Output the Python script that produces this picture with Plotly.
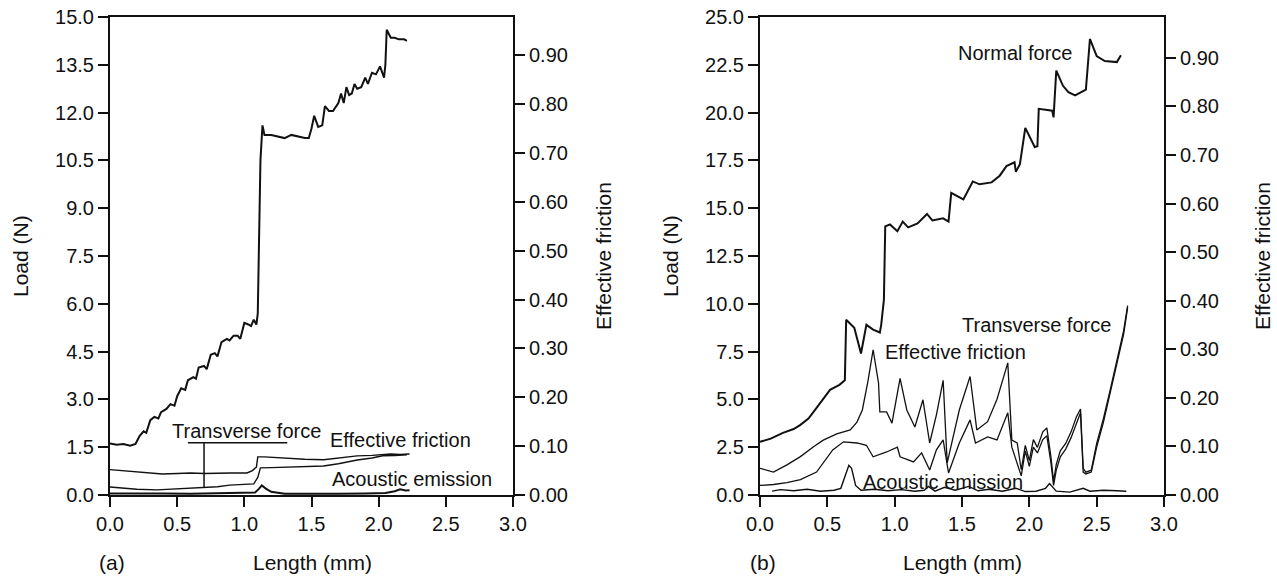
import plotly.graph_objects as go

# ---------------- Panel (a) ----------------
a_normal_x = [0.00, 0.05, 0.10, 0.15, 0.19, 0.22, 0.25, 0.27, 0.30, 0.33, 0.36, 0.38, 0.42, 0.45, 0.48,
              0.50, 0.53, 0.56, 0.58, 0.62, 0.64, 0.66, 0.70, 0.72, 0.75, 0.78, 0.80, 0.83, 0.87, 0.89,
              0.92, 0.95, 0.97, 1.00, 1.03, 1.05, 1.07, 1.09, 1.10, 1.11, 1.12, 1.135, 1.15, 1.20, 1.25,
              1.30, 1.35, 1.40, 1.45, 1.48, 1.50, 1.52, 1.55, 1.58, 1.60, 1.63, 1.66, 1.70, 1.72, 1.74,
              1.76, 1.78, 1.80, 1.82, 1.84, 1.87, 1.90, 1.92, 1.95, 1.98, 2.01, 2.04, 2.05, 2.06, 2.09,
              2.12, 2.15, 2.19, 2.21]
a_normal_y = [1.62, 1.58, 1.60, 1.55, 1.60, 1.85, 2.00, 1.95, 2.35, 2.45, 2.40, 2.60, 2.70, 2.85, 2.80,
              3.10, 3.35, 3.30, 3.60, 3.70, 3.65, 4.00, 4.05, 3.95, 4.40, 4.45, 4.35, 4.80, 4.90, 4.85,
              5.00, 5.00, 4.90, 5.40, 5.35, 5.30, 5.50, 5.35, 5.70, 8.50, 10.50, 11.60, 11.30, 11.30, 11.25,
              11.20, 11.30, 11.25, 11.20, 11.20, 11.50, 11.90, 11.55, 11.60, 12.20, 12.05, 12.05, 12.30, 12.60, 12.30,
              12.80, 12.55, 12.60, 12.90, 12.75, 12.80, 13.10, 12.90, 13.25, 13.20, 13.45, 13.10, 13.50, 14.60, 14.35,
              14.35, 14.30, 14.30, 14.25]

a_fric_x = [0.00, 0.10, 0.20, 0.30, 0.39, 0.50, 0.60, 0.70, 0.80, 0.90, 1.02, 1.06, 1.09, 1.10, 1.15,
            1.25, 1.34, 1.45, 1.59, 1.70, 1.84, 1.95, 2.09, 2.16, 2.23]
a_fric_y = [0.052, 0.050, 0.047, 0.045, 0.043, 0.044, 0.045, 0.044, 0.045, 0.045, 0.045, 0.050, 0.057, 0.078, 0.078,
            0.076, 0.074, 0.073, 0.072, 0.075, 0.080, 0.081, 0.084, 0.083, 0.084]

a_trans_x = [0.00, 0.10, 0.20, 0.35, 0.50, 0.69, 0.80, 0.89, 1.00, 1.07, 1.10, 1.12, 1.20, 1.34, 1.45,
             1.59, 1.70, 1.84, 1.95, 2.03, 2.12, 2.21]
a_trans_y = [0.25, 0.22, 0.18, 0.16, 0.19, 0.22, 0.26, 0.31, 0.33, 0.35, 0.55, 0.85, 0.86, 0.88, 0.89,
             0.91, 0.98, 1.10, 1.16, 1.23, 1.24, 1.26]

a_ae_x = [0.00, 0.20, 0.40, 0.60, 0.80, 1.00, 1.08, 1.11, 1.13, 1.16, 1.20, 1.30, 1.50, 1.70, 1.90,
          2.05, 2.12, 2.16, 2.20, 2.23]
a_ae_y = [0.05, 0.06, 0.05, 0.04, 0.05, 0.06, 0.08, 0.20, 0.30, 0.20, 0.10, 0.04, 0.03, 0.04, 0.05,
          0.06, 0.12, 0.18, 0.14, 0.15]

# ---------------- Panel (b) ----------------
b_normal_x = [0.00, 0.08, 0.17, 0.25, 0.30, 0.36, 0.42, 0.47, 0.52, 0.59, 0.63, 0.64, 0.70, 0.75, 0.79,
              0.84, 0.89, 0.90, 0.92, 0.93, 0.965, 1.02, 1.06, 1.10, 1.17, 1.24, 1.28, 1.36, 1.40, 1.42,
              1.51, 1.58, 1.63, 1.72, 1.78, 1.83, 1.89, 1.90, 1.93, 1.97, 2.04, 2.06, 2.07, 2.12, 2.17,
              2.18, 2.20, 2.25, 2.29, 2.34, 2.40, 2.42, 2.45, 2.50, 2.56, 2.65, 2.68]
b_normal_y = [2.78, 2.95, 3.25, 3.45, 3.67, 4.00, 4.56, 5.00, 5.50, 5.76, 6.00, 9.17, 8.75, 7.40, 8.90,
              8.65, 8.50, 8.90, 10.2, 14.05, 14.15, 13.80, 14.30, 14.00, 14.20, 14.70, 14.36, 14.47, 14.30, 15.80,
              15.46, 16.40, 16.25, 16.35, 16.70, 17.20, 17.40, 16.90, 17.30, 19.20, 18.20, 18.24, 20.20, 20.15, 20.10,
              19.75, 22.20, 21.40, 21.07, 20.90, 21.15, 21.20, 23.85, 22.96, 22.70, 22.64, 23.00]

b_fric_x = [0.00, 0.10, 0.20, 0.30, 0.40, 0.47, 0.57, 0.67, 0.72, 0.76, 0.80, 0.84, 0.88, 0.89, 0.94,
            0.98, 1.04, 1.09, 1.15, 1.21, 1.26, 1.31, 1.36, 1.39, 1.48, 1.56, 1.61, 1.69, 1.76, 1.84,
            1.87, 1.91, 1.94, 1.97, 2.00, 2.03, 2.06, 2.10, 2.13, 2.16, 2.18, 2.20, 2.23, 2.27, 2.31,
            2.35, 2.38, 2.40, 2.42, 2.46, 2.50, 2.55, 2.60, 2.65, 2.70, 2.73]
b_fric_y = [0.055, 0.047, 0.062, 0.079, 0.100, 0.113, 0.126, 0.134, 0.150, 0.175, 0.232, 0.299, 0.231, 0.171, 0.171,
            0.148, 0.240, 0.175, 0.140, 0.196, 0.107, 0.165, 0.236, 0.066, 0.175, 0.244, 0.134, 0.151, 0.197, 0.272,
            0.113, 0.107, 0.052, 0.102, 0.071, 0.114, 0.098, 0.130, 0.138, 0.079, 0.028, 0.063, 0.091, 0.106, 0.130,
            0.161, 0.177, 0.055, 0.047, 0.051, 0.106, 0.157, 0.216, 0.276, 0.338, 0.390]

b_trans_x = [0.00, 0.10, 0.20, 0.30, 0.42, 0.54, 0.62, 0.72, 0.79, 0.84, 0.94, 1.02, 1.04, 1.14, 1.20,
             1.26, 1.31, 1.36, 1.40, 1.48, 1.56, 1.60, 1.69, 1.76, 1.84, 1.87, 1.94, 1.97, 2.00, 2.03,
             2.06, 2.10, 2.13, 2.16, 2.18, 2.20, 2.23, 2.27, 2.31, 2.35, 2.38, 2.40, 2.42, 2.46, 2.50,
             2.55, 2.60, 2.65, 2.70, 2.73]
b_trans_y = [0.50, 0.55, 0.65, 0.80, 1.20, 2.36, 2.78, 2.72, 2.60, 2.00, 2.25, 2.50, 2.00, 1.73, 2.20,
             1.31, 2.36, 2.88, 1.15, 2.72, 3.93, 2.72, 3.04, 2.88, 4.30, 2.50, 1.00, 2.30, 1.50, 2.50,
             2.20, 2.90, 3.10, 1.70, 0.50, 1.30, 2.00, 2.40, 3.00, 3.80, 4.30, 1.20, 1.10, 1.20, 2.50,
             3.80, 5.30, 6.80, 8.40, 9.80]

b_ae_x = [0.09, 0.15, 0.25, 0.35, 0.45, 0.55, 0.60, 0.63, 0.66, 0.68, 0.71, 0.75, 0.85, 0.95, 1.05,
          1.15, 1.22, 1.25, 1.30, 1.37, 1.45, 1.55, 1.62, 1.70, 1.80, 1.90, 1.97, 2.05, 2.12, 2.15,
          2.20, 2.30, 2.40, 2.45, 2.55, 2.65, 2.72]
b_ae_y = [0.20, 0.28, 0.22, 0.30, 0.20, 0.25, 0.35, 1.00, 1.55, 1.40, 0.50, 0.25, 0.30, 0.22, 0.28,
          0.20, 0.25, 0.45, 0.20, 0.40, 0.25, 0.45, 0.22, 0.30, 0.20, 0.35, 0.18, 0.20, 0.35, 0.60,
          0.20, 0.15, 0.35, 0.20, 0.25, 0.22, 0.20]

x_ticks = [0.0, 0.5, 1.0, 1.5, 2.0, 2.5, 3.0]

FONT = "Liberation Sans, Arial, Helvetica, sans-serif"
INK = "#111111"
FS_TICK = 20
FS_TITLE = 21
FS_LABEL = 20

W, H = 1277, 578
PLOT_TOP, PLOT_BOT = 17, 495

fig = go.Figure()

def line(x, y, xa, ya, w=1.4):
    fig.add_trace(go.Scatter(x=x, y=y, xaxis=xa, yaxis=ya, mode="lines",
                             line=dict(color=INK, width=w), showlegend=False, hoverinfo="skip"))

line(a_normal_x, a_normal_y, "x", "y", 2.0)
line(a_trans_x, a_trans_y, "x", "y", 1.4)
line(a_ae_x, a_ae_y, "x", "y", 2.0)
line(a_fric_x, a_fric_y, "x", "y2", 1.4)

line(b_normal_x, b_normal_y, "x2", "y3", 2.0)
line(b_trans_x, b_trans_y, "x2", "y3", 1.3)
line(b_ae_x, b_ae_y, "x2", "y3", 1.4)
line(b_fric_x, b_fric_y, "x2", "y4", 1.3)

dom_a = [110 / W, 513 / W]
dom_b = [760 / W, 1164 / W]
dom_y = [1 - PLOT_BOT / H, 1 - PLOT_TOP / H]

xcommon = dict(range=[0, 3], tickvals=x_ticks, tickformat=".1f", ticks="outside", ticklen=10,
               tickwidth=2, tickcolor=INK, showline=True, linewidth=2, linecolor=INK, mirror=True,
               showgrid=False, zeroline=False, automargin=False,
               tickfont=dict(family=FONT, size=FS_TICK, color=INK))
ycommon = dict(domain=dom_y, ticks="outside", ticklen=10, tickwidth=2, tickcolor=INK, showline=True,
               linewidth=2, linecolor=INK, showgrid=False, zeroline=False, automargin=False,
               tickfont=dict(family=FONT, size=FS_TICK, color=INK))

fig.update_layout(
    width=W, height=H,
    margin=dict(l=0, r=0, t=0, b=0, pad=0),
    paper_bgcolor="white", plot_bgcolor="white",
    font=dict(family=FONT, size=FS_TICK, color=INK),
    xaxis=dict(domain=dom_a, anchor="y", **xcommon),
    xaxis2=dict(domain=dom_b, anchor="y3", **xcommon),
    yaxis=dict(anchor="x", range=[0, 15], dtick=1.5, tickformat=".1f", **ycommon),
    yaxis2=dict(anchor="x", overlaying="y", side="right", range=[0, 0.978], dtick=0.1,
                tickformat=".2f", **ycommon),
    yaxis3=dict(anchor="x2", range=[0, 25], dtick=2.5, tickformat=".1f", **ycommon),
    yaxis4=dict(anchor="x2", overlaying="y3", side="right", range=[0, 0.984], dtick=0.1,
                tickformat=".2f", **ycommon),
)

def txt(text, x, y, xref="paper", yref="paper", xanchor="center", yanchor="middle", angle=0,
        size=FS_LABEL):
    fig.add_annotation(text=text, x=x, y=y, xref=xref, yref=yref, xanchor=xanchor, yanchor=yanchor,
                       showarrow=False, textangle=angle, font=dict(family=FONT, size=size, color=INK))

def px(xp):
    return xp / W

def py(yp):
    return 1 - yp / H

# axis titles (paper coords; margins are zero so paper == full picture)
txt("Load (N)", px(20), py(256), angle=-90, size=FS_TITLE)
txt("Effective friction", px(603), py(256), angle=-90, size=FS_TITLE)
txt("Load (N)", px(670), py(256), angle=-90, size=FS_TITLE)
txt("Effective friction", px(1262), py(256), angle=-90, size=FS_TITLE)
txt("Length (mm)", px(312), py(562), size=FS_TITLE)
txt("Length (mm)", px(962), py(562), size=FS_TITLE)
txt("(a)", px(97), py(562), xanchor="left", size=FS_TITLE)
txt("(b)", px(748), py(562), xanchor="left", size=FS_TITLE)

# curve labels, panel (a)
txt("Transverse force", 0.45, 2.0, "x", "y", xanchor="left", yanchor="middle")
txt("Effective friction", 1.62, 1.72, "x", "y", xanchor="left")
txt("Acoustic emission", 1.64, 0.50, "x", "y", xanchor="left")
# leader lines
fig.add_shape(type="line", xref="x", yref="y", x0=0.58, x1=1.32, y0=1.64, y1=1.64,
              line=dict(color=INK, width=1.5))
fig.add_shape(type="line", xref="x", yref="y", x0=0.70, x1=0.70, y0=1.64, y1=0.22,
              line=dict(color=INK, width=1.5))

# curve labels, panel (b)
txt("Normal force", 2.33, 23.1, "x2", "y3", xanchor="right")
txt("Transverse force", 2.62, 8.9, "x2", "y3", xanchor="right")
txt("Effective friction", 0.91, 7.5, "x2", "y3", xanchor="left")
txt("Acoustic emission", 0.75, 0.68, "x2", "y3", xanchor="left")

fig.write_html("out.html", config={"displayModeBar": False},
               post_script="document.body.style.margin='0px';document.body.style.padding='0px';"
                           "document.documentElement.style.overflow='hidden';")
